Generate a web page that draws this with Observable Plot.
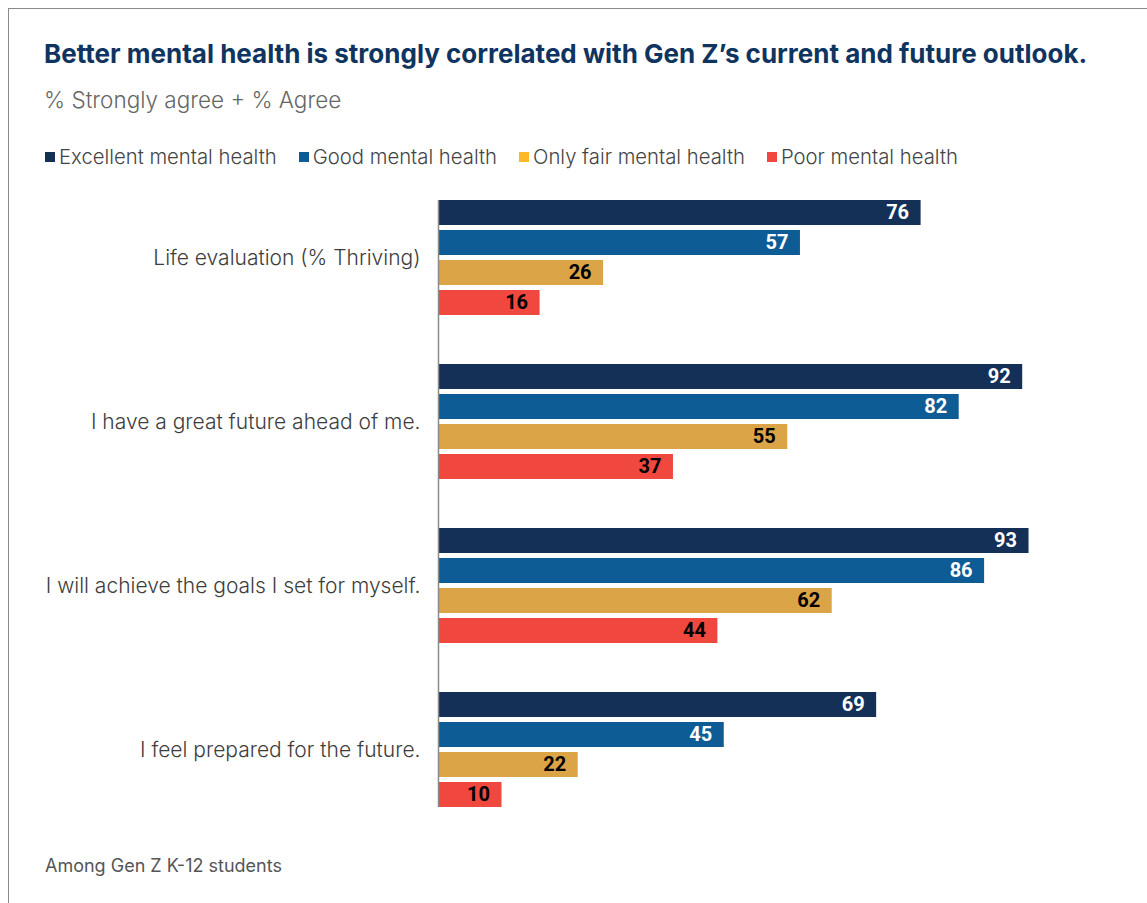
<!DOCTYPE html>
<html>
<head>
<meta charset="utf-8">
<script src="https://cdn.jsdelivr.net/npm/d3@7"></script>
<script src="https://cdn.jsdelivr.net/npm/@observablehq/plot@0.6"></script>
<style>
  html, body { margin: 0; padding: 0; background: #fff; }
  body { width: 1147px; height: 903px; position: relative; overflow: hidden; font-family: Inter, Roboto, "Liberation Sans", sans-serif; }
  #frame { position: absolute; left: 8px; top: 8px; right: -10px; bottom: -10px; border-left: 1.5px solid #8a8a8a; border-top: 1.5px solid #8a8a8a; }
  #title { position: absolute; left: 44px; top: 38px; font-size: 26px; font-weight: 700; color: #0f3460; white-space: nowrap; }
  #subtitle { position: absolute; left: 44px; top: 86px; font-size: 22.5px; font-weight: 300; color: #666; white-space: nowrap; }
  #legend { position: absolute; left: 45px; top: 144px; display: flex; font-size: 20.3px; font-weight: 300; color: #444; white-space: nowrap; }
  #legend .item { display: flex; align-items: center; margin-right: 22px; }
  #legend .sw { width: 10px; height: 10px; margin-right: 4px; }
  #chart { position: absolute; left: 0; top: 180px; }
  #footer { position: absolute; left: 45px; top: 855px; font-size: 18px; font-weight: 400; color: #555; white-space: nowrap; }
</style>
</head>
<body>
<div id="frame"></div>
<div id="title">Better mental health is strongly correlated with Gen Z’s current and future outlook.</div>
<div id="subtitle">% Strongly agree + % Agree</div>
<div id="legend"></div>
<div id="chart"></div>
<div id="footer">Among Gen Z K-12 students</div>
<script>
const categories = [
  "Life evaluation (% Thriving)",
  "I have a great future ahead of me.",
  "I will achieve the goals I set for myself.",
  "I feel prepared for the future."
];
const series = [
  "Excellent mental health",
  "Good mental health",
  "Only fair mental health",
  "Poor mental health"
];
const excellent = [76, 92, 93, 69];
const good = [57, 82, 86, 45];
const onlyFair = [26, 55, 62, 22];
const poor = [16, 37, 44, 10];

const barColors = ["#143057", "#0e5c96", "#dba447", "#f0483e"];
const legendColors = ["#143057", "#0e5c96", "#fdb827", "#f0483e"];
const darkSeries = ["Excellent mental health", "Good mental health"];

const seriesValues = [excellent, good, onlyFair, poor];
const rows = [];
categories.forEach((c, i) => {
  series.forEach((s, j) => {
    rows.push({category: c, series: s, value: seriesValues[j][i]});
  });
});

// Legend
const legend = d3.select("#legend");
series.forEach((s, j) => {
  const item = legend.append("div").attr("class", "item");
  item.append("div").attr("class", "sw").style("background", legendColors[j]);
  item.append("span").text(s);
});

const plot = Plot.plot({
  width: 1147,
  height: 650,
  marginLeft: 438,
  marginRight: 74,
  marginTop: 19,
  marginBottom: 23,
  style: {fontFamily: "Inter, Roboto, 'Liberation Sans', sans-serif", fontSize: "21px", fontWeight: 300, color: "#3d3d3d", background: "transparent"},
  x: {domain: [0, 100], axis: null},
  y: {domain: series, paddingInner: 1/6, paddingOuter: 0, axis: null},
  fy: {domain: categories, paddingInner: 0.3, paddingOuter: 0, axis: "left", tickSize: 0, tickPadding: 18, label: null},
  color: {domain: series, range: barColors},
  marks: [
    Plot.barX(rows, {x: "value", y: "series", fy: "category", fill: "series"}),
    Plot.ruleX(categories.slice(0, -1), {x: () => 0, fy: d => d, stroke: "#8a8a8a", strokeWidth: 1.5, insetBottom: -49.3}),
    Plot.ruleX(categories.slice(-1), {x: () => 0, fy: d => d, stroke: "#8a8a8a", strokeWidth: 1.5}),
    Plot.text(rows, {filter: d => darkSeries.includes(d.series), x: "value", y: "series", fy: "category", text: d => String(d.value), textAnchor: "end", dx: -12, fill: "white", fontWeight: 700, fontSize: 20, fontFamily: "Roboto, 'Liberation Sans', sans-serif"}),
    Plot.text(rows, {filter: d => !darkSeries.includes(d.series), x: "value", y: "series", fy: "category", text: d => String(d.value), textAnchor: "end", dx: -12, fill: "black", fontWeight: 700, fontSize: 20, fontFamily: "Roboto, 'Liberation Sans', sans-serif"})
  ]
});
document.getElementById("chart").appendChild(plot);
</script>
</body>
</html>
